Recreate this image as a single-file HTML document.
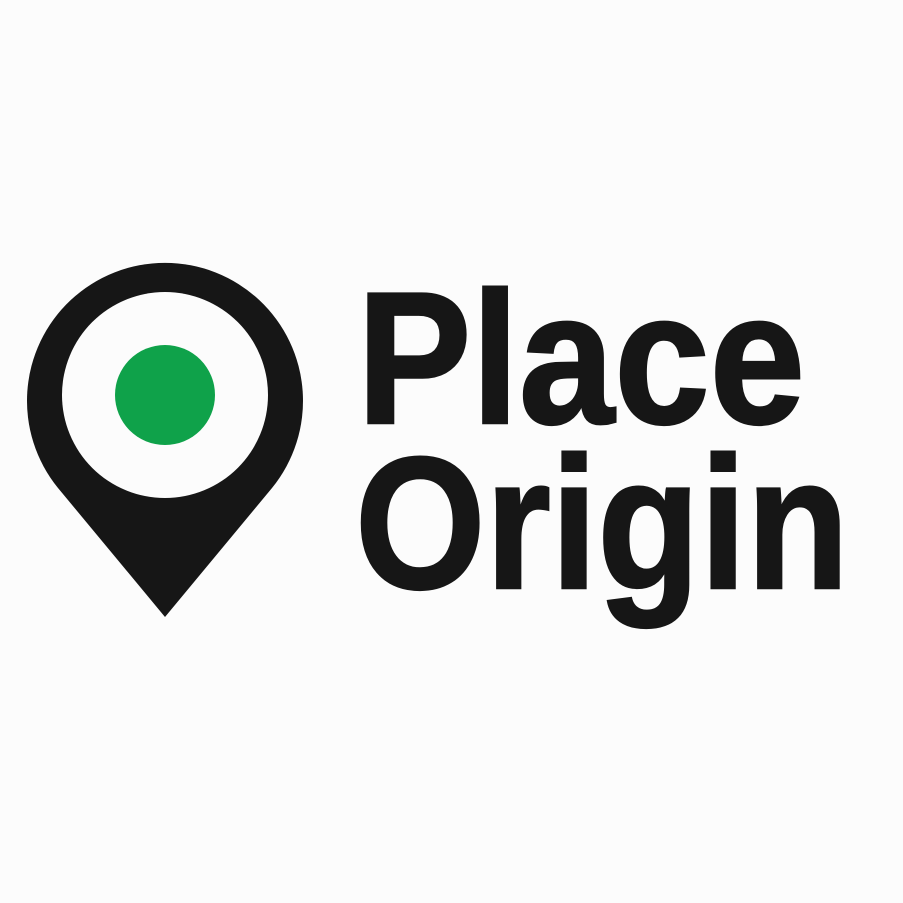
<!DOCTYPE html>
<html>
<head>
<meta charset="utf-8">
<style>
  html,body{margin:0;padding:0;background:#fcfcfc;}
  svg{display:block;}
  text{font-family:"Liberation Sans",sans-serif;font-weight:bold;fill:#161616;stroke:#161616;stroke-width:2.5px;}
</style>
</head>
<body>
<svg width="903" height="903" viewBox="0 0 903 903">
  <rect width="903" height="903" fill="#fcfcfc"/>
  <g>
    <path d="M165 617 L58 488 A138 138 0 1 1 272 488 Z" fill="#161616"/>
    <circle cx="165" cy="395" r="103" fill="#fcfcfc"/>
    <circle cx="165" cy="395" r="50" fill="#0fa24a"/>
  </g>
  <text x="357" y="423" font-size="188" textLength="448" lengthAdjust="spacingAndGlyphs">Place</text>
  <text x="355" y="588" font-size="188" textLength="494" lengthAdjust="spacingAndGlyphs">Origin</text>
</svg>
</body>
</html>
